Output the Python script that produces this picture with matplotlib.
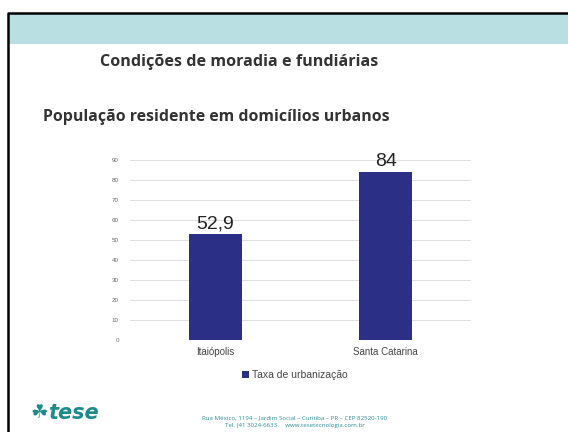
import matplotlib
matplotlib.use("Agg")
import matplotlib.pyplot as plt
from matplotlib.patches import Rectangle
from matplotlib.lines import Line2D

categories = ["Itaiópolis", "Santa Catarina"]
values = [52.9, 84]
value_labels = ["52,9", "84"]
series_name = "Taxa de urbanização"
yticks = [0, 10, 20, 30, 40, 50, 60, 70, 80, 90]

BAR = "#2b2f86"
GRID = "#d9d9d9"
TEAL_BAND = "#b9dfe3"
INK = "#333333"
W, H = 568, 432


def fx(px):
    return px / W


def fy(py):
    return 1 - py / H


fig = plt.figure(figsize=(W / 100, H / 100), dpi=100)
fig.patch.set_facecolor("white")

# slide frame (top + left only) + header band
fig.add_artist(Line2D([fx(8), fx(8), 1.0], [0.0, fy(12.5), fy(12.5)],
                      transform=fig.transFigure, color="black", lw=1.8))
fig.add_artist(Rectangle((fx(9), fy(44)), fx(568) - fx(9), fy(14) - fy(44),
                         transform=fig.transFigure, facecolor=TEAL_BAND, lw=0))

fig.text(fx(100), fy(62), "Condições de moradia e fundiárias", fontsize=11.6,
         fontweight="bold", family="Open Sans", color=INK, va="center")
fig.text(fx(43), fy(117), "População residente em domicílios urbanos", fontsize=11.4,
         fontweight="bold", family="Open Sans", color=INK, va="center")

# chart
ax = fig.add_axes([fx(130), fy(340), fx(471) - fx(130), fy(160) - fy(340)])
x = [0, 1]
bars = ax.bar(x, values, width=0.31, color=BAR, label=series_name, zorder=3)
ax.set_xlim(-0.5, 1.5)
ax.set_ylim(0, 90)
ax.set_yticks(yticks)
ax.tick_params(axis="y", labelsize=4.5, labelcolor="#666666", length=0, pad=8)
ax.tick_params(axis="x", labelsize=7, labelcolor="#444444", length=0, pad=5)
ax.set_xticks(x)
ax.set_xticklabels(categories, family="Liberation Sans")
for lab in ax.get_yticklabels():
    lab.set_family("Liberation Sans")
ax.grid(axis="y", color=GRID, lw=0.6, zorder=0)
for s in ax.spines.values():
    s.set_visible(False)
for b, lab in zip(bars, value_labels):
    ax.text(b.get_x() + b.get_width() / 2, b.get_height() + 0.8, lab, ha="center",
            va="bottom", fontsize=14, color="#222222", family="Liberation Sans")

leg = fig.legend(handles=[bars], labels=[series_name], loc="center",
                 bbox_to_anchor=(fx(295), fy(375)), frameon=False, handlelength=0.6,
                 handleheight=0.6, handletextpad=0.3,
                 prop={"family": "Liberation Sans", "size": 7.5})
for t in leg.get_texts():
    t.set_color("#444444")

# footer
fig.text(fx(30), fy(412), "\u2618", fontsize=14, color="#1d8a8c", va="center")
fig.text(fx(48), fy(413), "tese", fontsize=15, fontweight="bold", style="italic",
         color="#1d8a8c", va="center", family="DejaVu Sans")
fig.text(fx(295), fy(418), "Rua México, 1194 – Jardim Social – Curitiba – PR – CEP 82520-190",
         fontsize=4.4, color="#2a8f95", ha="center", va="center", family="Open Sans")
fig.text(fx(295), fy(426), "Tel. (41 3024-6633     www.tesetecnologia.com.br",
         fontsize=4.4, color="#2a8f95", ha="center", va="center", family="Open Sans")

fig.savefig("out.png", dpi=100, facecolor="white")
